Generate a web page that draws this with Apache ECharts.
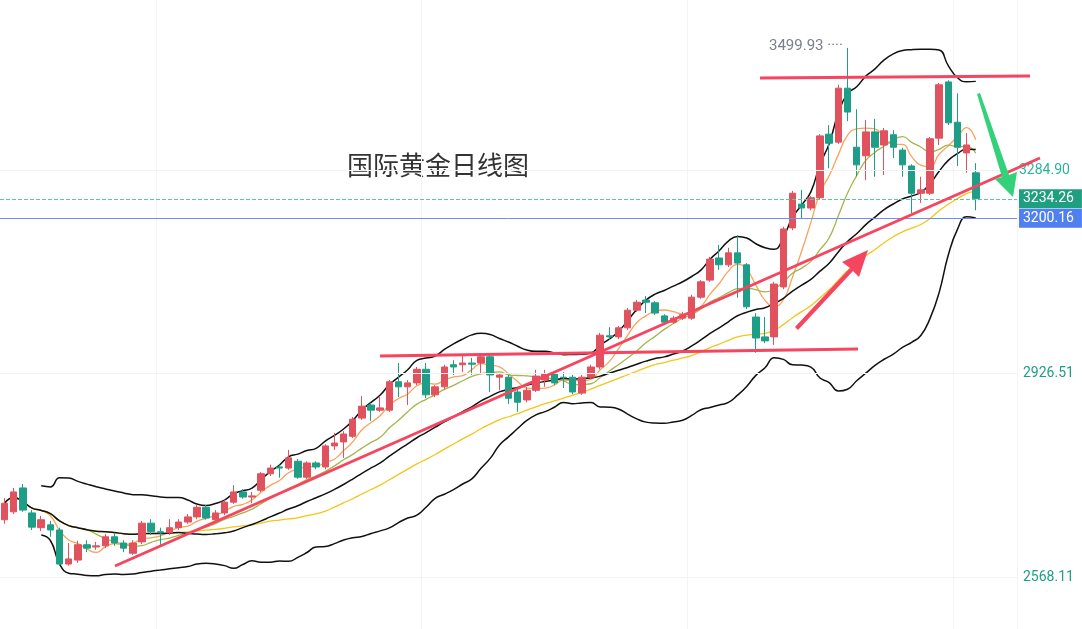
<!DOCTYPE html>
<html>
<head>
<meta charset="utf-8">
<script src="https://cdn.jsdelivr.net/npm/echarts@6/dist/echarts.min.js"></script>
<style>
html,body{margin:0;padding:0;background:#fff;}
#main{width:1082px;height:629px;}
</style>
</head>
<body>
<div id="main"></div>
<script>
// 日K: [开, 收, 低, 高]
var candles = [
    [2669,2698,2662,2707],[2683,2718,2679,2725],[2725,2686,2683,2732],[2681,2656,2651,2686],
    [2655,2669,2649,2676],[2660,2651,2639,2667],[2651,2591,2588,2655],[2591,2600,2588,2628],
    [2598,2625,2593,2632],[2625,2619,2612,2633],[2621,2623,2616,2630],[2623,2639,2619,2644],
    [2639,2628,2623,2646],[2628,2619,2612,2633],[2610,2628,2607,2633],[2630,2663,2626,2667],
    [2663,2648,2642,2670],[2648,2646,2623,2655],[2646,2655,2642,2670],[2655,2665,2651,2670],
    [2665,2674,2662,2679],[2674,2691,2670,2695],[2691,2672,2669,2695],[2669,2681,2665,2686],
    [2681,2700,2677,2704],[2700,2718,2697,2730],[2718,2709,2706,2723],[2709,2711,2698,2718],
    [2721,2750,2718,2753],[2750,2760,2746,2766],[2762,2760,2743,2766],[2760,2778,2757,2792],
    [2772,2744,2741,2776],[2744,2769,2741,2772],[2769,2762,2758,2772],[2762,2799,2758,2802],
    [2799,2804,2792,2822],[2806,2820,2778,2825],[2816,2846,2813,2850],[2848,2869,2845,2887],
    [2871,2862,2843,2875],[2862,2866,2859,2887],[2862,2912,2859,2915],[2912,2903,2885,2945],
    [2903,2910,2871,2915],[2910,2934,2906,2938],[2934,2889,2883,2945],[2889,2903,2885,2906],
    [2903,2938,2899,2942],[2942,2938,2924,2950],[2942,2945,2929,2961],[2945,2943,2924,2954],
    [2945,2956,2927,2959],[2956,2924,2894,2959],[2920,2924,2897,2927],[2920,2883,2873,2924],
    [2894,2876,2859,2901],[2880,2897,2876,2903],[2897,2922,2894,2933],[2915,2926,2903,2933],
    [2926,2910,2906,2929],[2920,2919,2901,2929],[2920,2894,2890,2924],[2892,2920,2889,2924],
    [2920,2938,2917,2942],[2938,2994,2934,2998],[2993,2991,2986,3008],[2991,3007,2987,3010],
    [3007,3038,3003,3042],[3038,3052,3035,3056],[3056,3052,3033,3063],[3051,3033,3030,3054],
    [3028,3017,3014,3031],[3017,3024,3014,3028],[3024,3030,3021,3035],[3024,3061,3021,3065],
    [3061,3088,3058,3091],[3091,3128,3088,3132],[3130,3118,3109,3153],[3118,3139,3114,3148],
    [3139,3121,3060,3170],[3118,3044,3040,3121],[3026,2989,2963,3033],[2991,2984,2980,3026],
    [2991,3084,2977,3088],[3079,3181,3075,3185],[3183,3244,3179,3248],[3225,3218,3200,3250],
    [3218,3236,3214,3239],[3236,3345,3232,3348],[3348,3332,3288,3364],[3334,3429,3331,3435],
    [3429,3387,3371,3499.93],[3325,3294,3274,3392],[3310,3352,3267,3373],[3352,3325,3273,3375],
    [3329,3354,3276,3359],[3347,3325,3306,3355],[3320,3294,3273,3324],[3292,3244,3209,3295],
    [3244,3250,3227,3273],[3244,3340,3241,3343],[3341,3435,3329,3438],[3440,3368,3364,3443],
    [3369,3325,3292,3420],[3315,3329,3280,3350],[3280,3234.26,3214,3297]
];
var emptyBars = 4;
var axisLevels = [3284.90, 2926.51, 2568.11];
var lastPrice = 3234.26;
var bandPrice = 3200.16;
var highLabel = '3499.93';
var vGridIdx = [17, 46, 75, 104];

var closes = candles.map(function (c) { return c[1]; });
var cats = [];
for (var i = 0; i < candles.length + emptyBars; i++) cats.push(i);

function ma(n, from) {
    return closes.map(function (v, i) {
        if (i < from) return '-';
        var s = Math.max(0, i - n + 1), sum = 0;
        for (var k = s; k <= i; k++) sum += closes[k];
        return +(sum / (i - s + 1)).toFixed(2);
    });
}
function boll(sign) {
    return closes.map(function (v, i) {
        if (i < 4) return '-';
        var s = Math.max(0, i - 19), n = i - s + 1, sum = 0, sq = 0;
        for (var k = s; k <= i; k++) sum += closes[k];
        var m = sum / n;
        for (k = s; k <= i; k++) sq += (closes[k] - m) * (closes[k] - m);
        return +(m + sign * 2 * Math.sqrt(sq / n)).toFixed(2);
    });
}
function line(name, data, color, w) {
    return { name: name, type: 'line', data: data, symbol: 'none', smooth: true,
             lineStyle: { color: color, width: w || 1.3 }, z: 3 };
}

var chart = echarts.init(document.getElementById('main'));
var red = '#e0525e', green = '#1f9e87', mark = '#f5455f';

chart.setOption({
    animation: false,
    grid: { left: -4.6, right: 65, top: 0, bottom: 0 },
    xAxis: {
        type: 'category', data: cats, boundaryGap: true,
        axisLine: { show: false }, axisTick: { show: false }, axisLabel: { show: false },
        splitLine: { show: true, interval: function (idx) { return vGridIdx.indexOf(idx) >= 0; },
                     lineStyle: { color: '#f4f4f4' } }
    },
    yAxis: {
        type: 'value', min: 2476.6, max: 3584.3, position: 'right',
        axisLabel: { show: false }, splitLine: { show: false }, axisLine: { show: false }
    },
    series: [
        {
            type: 'candlestick', data: candles, barWidth: 7, z: 4,
            itemStyle: { color: red, color0: green, borderColor: red, borderColor0: green },
            markLine: {
                symbol: 'none', silent: true,
                data: [
                    { yAxis: axisLevels[0], lineStyle: { color: '#f2f2f2', type: 'solid' },
                      label: { formatter: '3284.90', color: '#2ab39a' } },
                    { yAxis: axisLevels[1], lineStyle: { color: '#f2f2f2', type: 'solid' },
                      label: { formatter: '2926.51', color: '#1f9e87', distance: 6 } },
                    { yAxis: axisLevels[2], lineStyle: { color: '#f2f2f2', type: 'solid' },
                      label: { formatter: '2568.11', color: '#1f9e87', distance: 6 } },
                    { yAxis: lastPrice, lineStyle: { color: '#5fc2aa', type: 'dashed', width: 1 },
                      label: { formatter: '3234.26', color: '#fff', backgroundColor: '#1f9e80', padding: [3, 8, 2, 4] } },
                    { yAxis: bandPrice, lineStyle: { color: '#6d8ff2', type: 'solid', width: 1 },
                      label: { formatter: '3200.16', color: '#fff', backgroundColor: '#4f7ff0', padding: [3, 8, 2, 4] } }
                ],
                label: { position: 'end', distance: 2, fontSize: 14, fontFamily: 'Roboto' }
            }
        },
        line('MA5', ma(5, 0), '#f7a35c'),
        line('MA10', ma(10, 0), '#a4b54c'),
        line('MA30', ma(30, 0), '#f5c518'),
        line('BOLL', ma(20, 0), '#111', 1.5),
        line('UB', boll(1), '#111', 1.5),
        line('LB', boll(-1), '#111', 1.5)
    ],
    graphic: [
        { type: 'text', left: 347, top: 152, style: { text: '国际黄金日线图', fontSize: 26,
          fill: '#333', fontFamily: 'Noto Sans CJK SC' } },
        { type: 'text', left: 769, top: 39, style: { text: highLabel + ' ····', fontSize: 15,
          fill: '#7a7f8a', fontFamily: 'Roboto' } },
        { type: 'line', shape: { x1: 115, y1: 566, x2: 1040, y2: 158 }, style: { stroke: mark, lineWidth: 3 }, z: 10 },
        { type: 'line', shape: { x1: 380, y1: 356, x2: 858, y2: 349 }, style: { stroke: mark, lineWidth: 3 }, z: 10 },
        { type: 'line', shape: { x1: 760, y1: 78, x2: 1030, y2: 76 }, style: { stroke: mark, lineWidth: 3 }, z: 10 },
        { type: 'polygon', shape: { points: [[795, 327], [850, 268], [842, 262], [868, 250], [859, 277], [853, 271], [798, 330]] },
          style: { fill: mark }, z: 10 },
        { type: 'polygon', shape: { points: [[977, 94], [1002, 177], [995, 179], [1013, 197], [1017, 172], [1009, 175], [980, 93]] },
          style: { fill: '#33d17a' }, z: 10 }
    ]
});
</script>
</body>
</html>
